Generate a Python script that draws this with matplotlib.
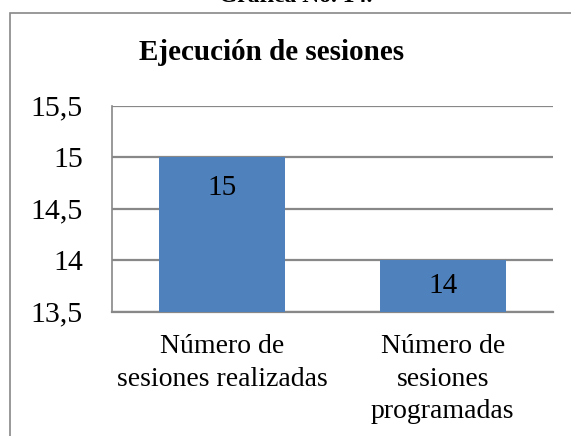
import matplotlib.pyplot as plt
from matplotlib.patches import Rectangle

plt.rcParams['font.family'] = ['Liberation Serif', 'DejaVu Serif']

categorias = ['Número de\nsesiones realizadas', 'Número de\nsesiones\nprogramadas']
valores = [15, 14]
yticks = [13.5, 14, 14.5, 15, 15.5]
ytick_labels = ['13,5', '14', '14,5', '15', '15,5']

fig = plt.figure(figsize=(5.71, 4.36), dpi=100)

# outer chart border (cut off on the right and bottom)
fig.patches.append(Rectangle((10 / 571, -0.2), 1.2, 1.2 - 13 / 436,
                             transform=fig.transFigure, fill=False,
                             edgecolor='#888888', linewidth=1.2))

ax = fig.add_axes([112 / 571, 1 - 311.7 / 436, 441 / 571, 206 / 436])

x = range(len(valores))
ax.bar(x, valores, width=0.57, color='#4F81BD', zorder=3)
ax.set_xlim(-0.5, 1.5)
ax.set_ylim(13.5, 15.5)
ax.set_yticks(yticks)
ax.set_yticklabels(ytick_labels, fontsize=21.5, va='center_baseline')
ax.set_xticks(list(x))
ax.set_xticklabels(categorias, fontsize=20, linespacing=1.4)
ax.tick_params(axis='y', length=0, pad=21)
ax.tick_params(axis='x', length=0, pad=16)
ax.grid(axis='y', color='#888888', linewidth=1.6, zorder=0)

for s in ['top', 'right']:
    ax.spines[s].set_visible(False)
ax.spines['left'].set_color('#888888')
ax.spines['left'].set_linewidth(1.2)
ax.spines['bottom'].set_color('#888888')
ax.spines['bottom'].set_linewidth(1.6)

# data labels
for xi, v in zip(x, valores):
    ypos = max(v - 0.3, (13.5 + v) / 2)
    ax.text(xi, ypos, str(v), ha='center', va='center', fontsize=21, zorder=4)

fig.text(271.5 / 571, 1 - 53 / 436, 'Ejecución de sesiones', ha='center', va='center',
         fontsize=21, fontweight='bold')
fig.text(296 / 571, 1 - 2 / 436, 'Gráfica No. 14.', ha='center', va='baseline',
         fontsize=17, fontweight='bold')

fig.savefig('out.png', dpi=100)
